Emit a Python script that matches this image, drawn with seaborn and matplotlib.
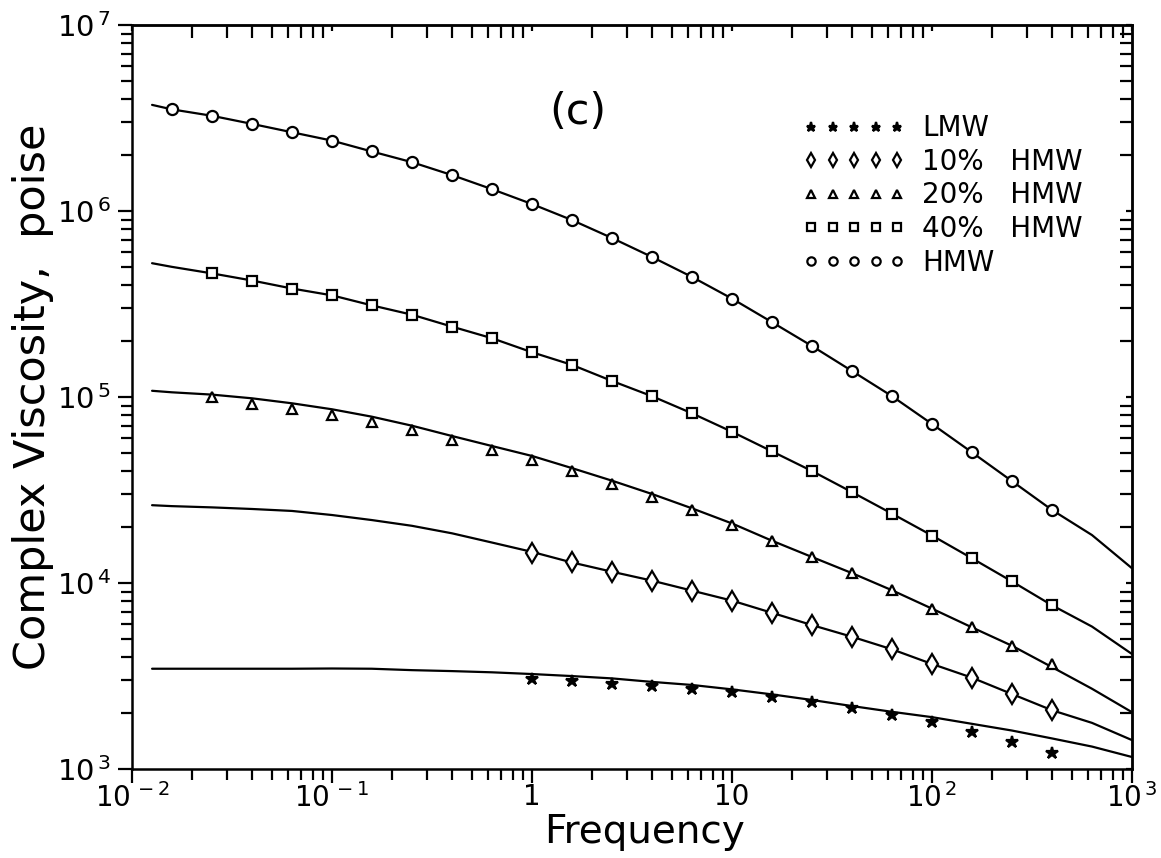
import numpy as np
import pandas as pd
import matplotlib
matplotlib.use("Agg")
import matplotlib.pyplot as plt
import seaborn as sns

# ---------------- data ----------------
pt_freq_all = [0.0158, 0.0251, 0.0398, 0.0631, 0.1, 0.158, 0.251, 0.398, 0.631,
               1.0, 1.58, 2.51, 3.98, 6.31, 10.0, 15.8, 25.1, 39.8, 63.1,
               100.0, 158.0, 251.0, 398.0]
pt_freq_mid = pt_freq_all[1:]
pt_freq_high = pt_freq_all[9:]

hmw_pts = [3.52e6, 3.25e6, 2.94e6, 2.65e6, 2.39e6, 2.09e6, 1.83e6, 1.56e6, 1.31e6,
           1.09e6, 8.95e5, 7.16e5, 5.66e5, 4.42e5, 3.38e5, 2.53e5, 1.88e5, 1.38e5,
           1.01e5, 7.16e4, 5.05e4, 3.53e4, 2.47e4]
hmw40_pts = [4.62e5, 4.23e5, 3.83e5, 3.52e5, 3.11e5, 2.77e5, 2.39e5, 2.07e5, 1.74e5,
             1.49e5, 1.22e5, 1.01e5, 8.17e4, 6.50e4, 5.11e4, 4.00e4, 3.08e4, 2.36e4,
             1.80e4, 1.36e4, 1.02e4, 7.59e3]
hmw20_pts = [1.00e5, 9.16e4, 8.61e4, 7.99e4, 7.31e4, 6.65e4, 5.88e4, 5.21e4, 4.58e4,
             4.00e4, 3.42e4, 2.91e4, 2.46e4, 2.06e4, 1.69e4, 1.38e4, 1.13e4, 9.14e3,
             7.28e3, 5.78e3, 4.60e3, 3.67e3]
hmw10_pts = [1.45e4, 1.29e4, 1.15e4, 1.03e4, 9.10e3, 8.04e3, 6.92e3, 5.94e3, 5.14e3,
             4.40e3, 3.67e3, 3.10e3, 2.53e3, 2.07e3]
lmw_pts = [3.03e3, 2.97e3, 2.86e3, 2.79e3, 2.70e3, 2.58e3, 2.43e3, 2.29e3, 2.12e3,
           1.96e3, 1.79e3, 1.59e3, 1.40e3, 1.22e3]

fit_freq = [0.0126] + pt_freq_all + [631.0, 1000.0]
hmw_fit = [3.72e6] + hmw_pts + [1.81e4, 1.20e4]
hmw40_fit = [5.24e5, 5.01e5] + hmw40_pts + [5.83e3, 4.15e3]
hmw20_fit = [1.08e5, 1.06e5, 1.03e5, 9.84e4, 9.25e4, 8.59e4, 7.84e4, 7.01e4, 6.17e4,
             5.45e4, 4.82e4, 4.15e4, 3.55e4, 3.01e4, 2.52e4, 2.09e4, 1.69e4, 1.38e4,
             1.13e4, 9.14e3, 7.28e3, 5.78e3, 4.60e3, 3.53e3, 2.70e3, 2.02e3]
hmw10_fit = [2.62e4, 2.59e4, 2.55e4, 2.50e4, 2.44e4, 2.32e4, 2.18e4, 2.03e4, 1.85e4,
             1.65e4, 1.47e4, 1.29e4, 1.15e4, 1.03e4, 9.10e3, 8.04e3, 6.92e3, 5.94e3,
             5.14e3, 4.40e3, 3.67e3, 3.10e3, 2.53e3, 2.07e3, 1.77e3, 1.43e3]
lmw_fit = [3.46e3, 3.46e3, 3.46e3, 3.46e3, 3.46e3, 3.47e3, 3.46e3, 3.40e3, 3.36e3,
           3.31e3, 3.24e3, 3.16e3, 3.07e3, 2.94e3, 2.83e3, 2.68e3, 2.52e3, 2.35e3,
           2.18e3, 2.03e3, 1.90e3, 1.75e3, 1.61e3, 1.46e3, 1.32e3, 1.16e3]

labels = ["LMW", "10%   HMW", "20%   HMW", "40%   HMW", "HMW"]
x_ticks = [1e-2, 1e-1, 1, 10, 1e2, 1e3]
x_ticklabels = ["10$^{\\,-2}$", "10$^{\\,-1}$", "1", "10", "10$^{\\,2}$", "10$^{\\,3}$"]
y_ticks = [1e3, 1e4, 1e5, 1e6, 1e7]
y_ticklabels = ["10$^{\\,3}$", "10$^{\\,4}$", "10$^{\\,5}$", "10$^{\\,6}$", "10$^{\\,7}$"]

# ---------------- style ----------------
sns.set_theme(style="white")
plt.rcParams["font.family"] = ["DejaVu Sans"]
plt.rcParams["mathtext.default"] = "regular"

fig = plt.figure(figsize=(11.61, 8.58), dpi=100)
ax = fig.add_axes([132 / 1161, 1 - 769 / 858, 1000 / 1161, 744 / 858])
ax.set_facecolor("white")

series = [
    (labels[0], pt_freq_high, lmw_pts, lmw_fit, "*", 9, "black"),
    (labels[1], pt_freq_high, hmw10_pts, hmw10_fit, "d", 10, "white"),
    (labels[2], pt_freq_mid, hmw20_pts, hmw20_fit, "^", 7.5, "white"),
    (labels[3], pt_freq_mid, hmw40_pts, hmw40_fit, "s", 7, "white"),
    (labels[4], pt_freq_all, hmw_pts, hmw_fit, "o", 8, "white"),
]

for lab, fx, fy, fit, mk, ms, mfc in series:
    sns.lineplot(x=fit_freq, y=fit, ax=ax, color="black", lw=1.6,
                 estimator=None, sort=False, legend=False)
    sns.lineplot(x=fx, y=fy, ax=ax, color="black", linestyle="none",
                 marker=mk, markersize=ms, markerfacecolor=mfc,
                 markeredgecolor="black", markeredgewidth=1.6,
                 estimator=None, sort=False, label=lab)

ax.set_xscale("log")
ax.set_yscale("log")
ax.set_xlim(1e-2, 1e3)
ax.set_ylim(1e3, 1e7)

for s in ax.spines.values():
    s.set_color("black")
    s.set_linewidth(1.8)

ax.set_xticks(x_ticks)
ax.set_xticklabels(x_ticklabels, fontsize=20)
ax.set_yticks(y_ticks)
ax.set_yticklabels(y_ticklabels, fontsize=21)
ax.xaxis.set_minor_locator(matplotlib.ticker.LogLocator(base=10, subs=np.arange(2, 10)))
ax.yaxis.set_minor_locator(matplotlib.ticker.LogLocator(base=10, subs=np.arange(2, 10)))
ax.xaxis.set_minor_formatter(matplotlib.ticker.NullFormatter())
ax.yaxis.set_minor_formatter(matplotlib.ticker.NullFormatter())
ax.tick_params(which="major", direction="out", length=10, width=1.6, colors="black",
               bottom=True, left=True, top=False, right=False, pad=0)
ax.tick_params(which="minor", direction="out", length=8, width=1.6, colors="black",
               bottom=True, left=True, top=False, right=False)
ax.tick_params(axis="y", which="major", pad=5)

# top / right inward ticks
for sec, which in ((ax.secondary_xaxis("top"), "x"), (ax.secondary_yaxis("right"), "y")):
    axis = sec.xaxis if which == "x" else sec.yaxis
    axis.set_major_locator(matplotlib.ticker.LogLocator(base=10))
    axis.set_minor_locator(matplotlib.ticker.LogLocator(base=10, subs=np.arange(2, 10)))
    axis.set_major_formatter(matplotlib.ticker.NullFormatter())
    axis.set_minor_formatter(matplotlib.ticker.NullFormatter())
    sec.tick_params(which="major", direction="in", length=4, width=1.6, colors="black")
    sec.tick_params(which="minor", direction="in", length=9, width=1.6, colors="black")
    for s in sec.spines.values():
        s.set_linewidth(1.8)

ax.set_xlabel("Frequency", fontsize=28, color="black")
ax.xaxis.set_label_coords(0.513, -0.059)
ax.set_ylabel("Complex Viscosity,  poise", fontsize=31, color="black")
ax.yaxis.set_label_coords(-0.078, 0.5)

ax.text(0.446, 0.883, "(c)", transform=ax.transAxes, fontsize=31,
        ha="center", va="center", color="black")

handles, labs = ax.get_legend_handles_labels()
leg = ax.legend(handles, labs, loc="upper left", bbox_to_anchor=(0.671, 0.88),
                numpoints=5, handlelength=3.7, handletextpad=0.6, labelspacing=0.2,
                frameon=False, fontsize=20, borderpad=0, borderaxespad=0,
                markerscale=0.75)
for t in leg.get_texts():
    t.set_color("black")

fig.savefig("out.png", dpi=100, facecolor="white")
